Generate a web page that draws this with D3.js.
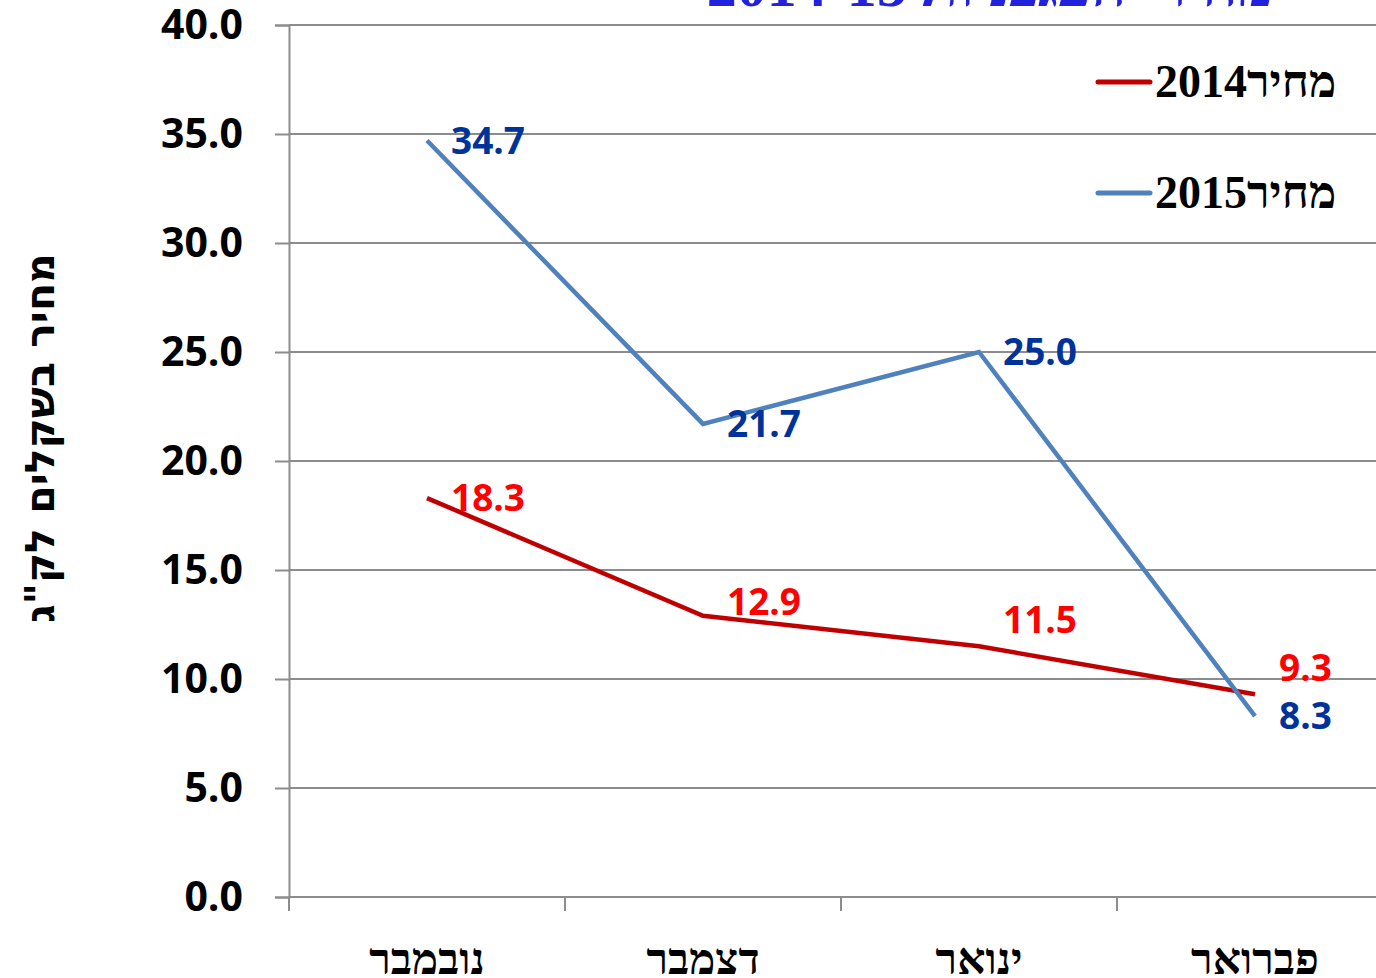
<!DOCTYPE html>
<html>
<head>
<meta charset="utf-8">
<script src="https://cdn.jsdelivr.net/npm/d3@7"></script>
<style>
  body { margin: 0; background: #fff; overflow: hidden; }
</style>
</head>
<body>
<div id="chart"></div>
<script>
// Data
var months = ["נובמבר", "דצמבר", "ינואר", "פברואר"];
var price2014 = [18.3, 12.9, 11.5, 9.3];
var price2015 = [34.7, 21.7, 25.0, 8.3];
var seriesNames = ["מחיר2014", "מחיר2015"];
var yTicks = [0, 5, 10, 15, 20, 25, 30, 35, 40];
var titleText = "מחירי העגבניות 2014-15";
var yTitle = "מחיר בשקלים  לק\"ג";

var width = 1376, height = 978;
var margin = { top: 25, left: 289, bottom: 81 };
var plotRight = 1393; // plot runs past the window edge

var svg = d3.select("#chart").append("svg")
    .attr("width", width)
    .attr("height", height);

var x = d3.scaleBand()
    .domain(months)
    .range([margin.left, plotRight]);

var y = d3.scaleLinear()
    .domain([0, 40])
    .range([height - margin.bottom, margin.top]);

// gridlines
svg.append("g")
  .selectAll("line")
  .data(yTicks)
  .enter().append("line")
    .attr("x1", margin.left)
    .attr("x2", width)
    .attr("y1", function(d) { return y(d); })
    .attr("y2", function(d) { return y(d); })
    .style("stroke", "#8c8c8c")
    .style("stroke-width", 2);

// y axis
var yAxis = svg.append("g")
    .attr("transform", "translate(" + margin.left + ",0)")
    .call(d3.axisLeft(y).tickValues(yTicks).tickFormat(d3.format(".1f")).tickSize(14).tickPadding(32));
yAxis.select(".domain").style("stroke", "#8c8c8c").style("stroke-width", 2);
yAxis.selectAll(".tick line").style("stroke", "#8c8c8c").style("stroke-width", 2);
yAxis.selectAll("text")
    .style("font-family", "'Open Sans', 'Liberation Sans', sans-serif")
    .style("font-size", "41px")
    .style("font-weight", "bold")
    .style("fill", "#000");

// x axis ticks at category boundaries
var bounds = months.map(function(m) { return x(m); });
svg.append("g")
  .selectAll("line")
  .data(bounds)
  .enter().append("line")
    .attr("x1", function(d) { return d; })
    .attr("x2", function(d) { return d; })
    .attr("y1", y(0))
    .attr("y2", y(0) + 14)
    .style("stroke", "#8c8c8c")
    .style("stroke-width", 2);

svg.append("g")
  .selectAll("text")
  .data(months)
  .enter().append("text")
    .attr("x", function(d) { return x(d) + x.bandwidth() / 2; })
    .attr("y", 974)
    .attr("text-anchor", "middle")
    .style("font-family", "'Liberation Serif', 'DejaVu Serif', serif")
    .style("font-size", "44px")
    .style("font-weight", "bold")
    .text(function(d) { return d; });

// y title
svg.append("text")
    .attr("transform", "translate(54,438) rotate(-90)")
    .attr("text-anchor", "middle")
    .style("font-family", "'DejaVu Sans', sans-serif")
    .style("font-size", "41px")
    .style("font-weight", "bold")
    .text(yTitle);

// title (cut by the top edge)
svg.append("text")
    .attr("x", 990)
    .attr("y", 6)
    .attr("text-anchor", "middle")
    .style("font-family", "'Liberation Serif', serif")
    .style("font-size", "60px")
    .style("font-weight", "bold")
    .style("fill", "#2222dd")
    .text(titleText);

// lines
var line = d3.line()
    .x(function(d, i) { return x(months[i]) + x.bandwidth() / 2; })
    .y(function(d) { return y(d); });

var series = [
  { values: price2014, stroke: "#c00000", label: "#ff0000", dy: [0, -14, -27, -27] },
  { values: price2015, stroke: "#4f81bd", label: "#003399", dy: [0, 0, 0, 0] }
];

series.forEach(function(s) {
  svg.append("path")
      .datum(s.values)
      .attr("d", line)
      .style("fill", "none")
      .style("stroke", s.stroke)
      .style("stroke-width", 4.5);

  svg.append("g")
    .selectAll("text")
    .data(s.values)
    .enter().append("text")
      .attr("x", function(d, i) { return x(months[i]) + x.bandwidth() / 2 + 24; })
      .attr("y", function(d, i) { return y(d) + s.dy[i]; })
      .attr("dy", "0.36em")
      .style("font-family", "'Open Sans', 'Liberation Sans', sans-serif")
      .style("font-size", "37px")
      .style("font-weight", "bold")
      .style("fill", s.label)
      .text(function(d) { return d3.format(".1f")(d); });
});

// legend
var legend = svg.append("g")
  .selectAll("g")
  .data(series)
  .enter().append("g")
    .attr("transform", function(d, i) { return "translate(1098," + (82 + i * 111) + ")"; });

legend.append("line")
    .attr("x1", 0)
    .attr("x2", 52)
    .style("stroke", function(d) { return d.stroke; })
    .style("stroke-width", 5)
    .style("stroke-linecap", "round");

legend.append("text")
    .attr("x", 57)
    .attr("y", 15)
    .style("font-family", "'Liberation Serif', serif")
    .style("font-size", "46px")
    .style("font-weight", "bold")
    .text(function(d, i) { return seriesNames[i]; });
</script>
</body>
</html>
